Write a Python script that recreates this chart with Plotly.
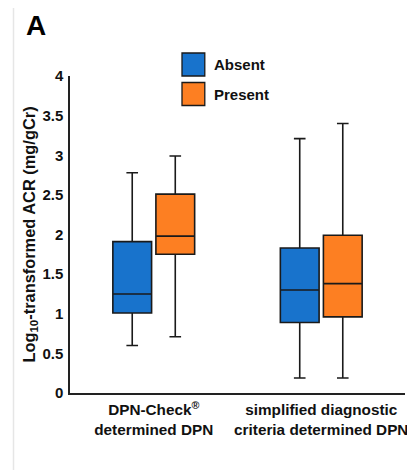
import plotly.graph_objects as go

categories = ["DPN-Check<sup>®</sup><br>determined DPN",
              "simplified diagnostic<br>criteria determined DPN"]

absent_lower = [0.60, 0.19]
absent_q1 = [1.01, 0.89]
absent_median = [1.25, 1.30]
absent_q3 = [1.91, 1.83]
absent_upper = [2.78, 3.21]

present_lower = [0.71, 0.19]
present_q1 = [1.75, 0.96]
present_median = [1.98, 1.38]
present_q3 = [2.51, 1.99]
present_upper = [2.99, 3.40]

series_names = ["Absent", "Present"]
colors = ["#1873cc", "#fd7f22"]

OFF = 8  # page body offset
W, H = 407, 462
ML, MR, MT, MB = 62, 7, 68, 77
PW, PH = W - ML - MR, H - MT - MB


def px(x):
    return (x - OFF - ML) / PW


def py(y):
    return (H - MB - (y - OFF)) / PH


fig = go.Figure()
data = [
    (absent_lower, absent_q1, absent_median, absent_q3, absent_upper),
    (present_lower, present_q1, present_median, present_q3, present_upper),
]
for name, col, (lo, q1, md, q3, up) in zip(series_names, colors, data):
    fig.add_trace(go.Box(
        name=name, x=categories, lowerfence=lo, q1=q1, median=md, q3=q3,
        upperfence=up, fillcolor=col, line=dict(color="#1a1a1a", width=1.6),
        whiskerwidth=0.3, boxpoints=False, showlegend=False, hoverinfo="skip",
    ))

shapes = []
annotations = []
# legend
for i, (name, col) in enumerate(zip(series_names, colors)):
    y0 = 53 + i * 29.5
    shapes.append(dict(type="rect", xref="paper", yref="paper",
                       x0=px(183), x1=px(206), y0=py(y0 + 23), y1=py(y0),
                       fillcolor=col, line=dict(color="#1a1a1a", width=1.3)))
    annotations.append(dict(text="<b>%s</b>" % name, xref="paper", yref="paper",
                            x=px(213), y=py(y0 + 11.5), xanchor="left",
                            yanchor="middle", showarrow=False,
                            font=dict(size=15, color="#111")))
# panel letter
annotations.append(dict(text="<b>A</b>", xref="paper", yref="paper",
                        x=px(25), y=py(8.5), xanchor="left", yanchor="top",
                        showarrow=False, borderpad=0,
                        font=dict(size=28, color="#000")))
# light frame (left edge)
shapes.append(dict(type="line", xref="paper", yref="paper",
                   x0=px(13), x1=px(13), y0=py(8), y1=py(470),
                   line=dict(color="#e6e6e6", width=1.5)))

fig.update_layout(
    width=W, height=H,
    margin=dict(l=ML, r=MR, t=MT, b=MB),
    paper_bgcolor="white", plot_bgcolor="white",
    boxmode="group", boxgap=0.486, boxgroupgap=0.1,
    font=dict(family="Liberation Sans, Arial, sans-serif", color="#111"),
    shapes=shapes, annotations=annotations,
    xaxis=dict(showline=True, linecolor="#222", linewidth=1.5,
               ticks="", showgrid=False, zeroline=False,
               tickfont=dict(size=15.3), ticklabelstandoff=2,
               range=[-0.5, 1.5],
               tickvals=categories,
               ticktext=["<b>DPN-Check<sup>®</sup></b><br><b>determined DPN</b>",
                         "<b>simplified diagnostic</b><br><b>criteria determined DPN</b>"]),
    yaxis=dict(showline=True, linecolor="#222", linewidth=1.5,
               range=[0, 4], ticks="", showgrid=False,
               zeroline=False, tickfont=dict(size=15), ticklabelstandoff=2,
               tickvals=[0, 0.5, 1, 1.5, 2, 2.5, 3, 3.5, 4],
               ticktext=["<b>%s</b>" % t for t in
                         ["0", "0.5", "1", "1.5", "2", "2.5", "3", "3.5", "4"]],
               title=dict(text="<b>Log<sub>10</sub>-transformed ACR (mg/gCr)</b>",
                          font=dict(size=16.4), standoff=3)),
)

fig.write_html("out.html")
